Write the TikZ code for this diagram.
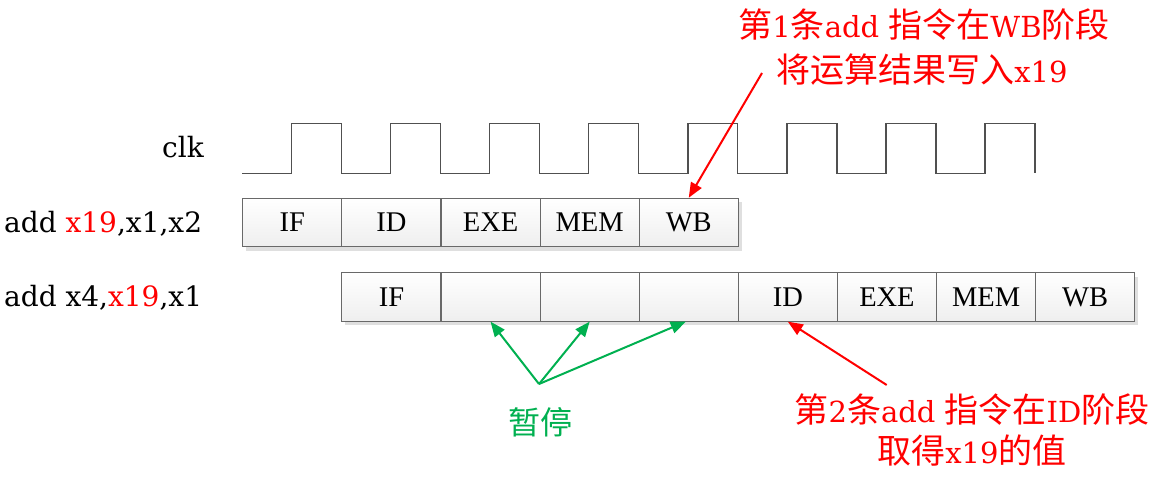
\documentclass[tikz,border=0pt]{standalone}
\usepackage{fontspec}
\setmainfont{DejaVu Serif}
\newfontfamily\cjkfont{Noto Sans CJK SC}
\newfontfamily\cellfont{Liberation Serif}
\usetikzlibrary{arrows.meta}
\definecolor{myred}{RGB}{255,0,0}
\definecolor{mygreen}{RGB}{0,176,80}
\definecolor{edgec}{RGB}{105,105,105}
\definecolor{clkc}{RGB}{80,80,80}
\newcommand\zhs[1]{{\cjkfont\fontsize{34}{40}\selectfont #1}}
\newcommand\zhg[1]{{\cjkfont\fontsize{32}{38}\selectfont #1}}
\begin{document}
\begin{tikzpicture}[x=1pt,y=-1pt,
  cell/.style={draw=edgec, line width=1.1pt, top color=white, bottom color=gray!13,
    minimum width=99.1pt, minimum height=48.4pt, inner sep=0pt,
    font=\cellfont\fontsize{28.5}{28.5}\selectfont},
  shadowc/.style={fill=gray!25},
  lbl/.style={font=\fontsize{28}{30}\selectfont, inner sep=0pt},
  note/.style={font=\fontsize{29}{34}\selectfont, text=myred, inner sep=0pt, anchor=base},
  redarrow/.style={draw=myred, line width=2pt, -{Triangle[length=15pt,width=12pt]}},
  greenarrow/.style={draw=mygreen, line width=2pt, -{Triangle[length=15pt,width=12pt]}},
  clkline/.style={draw=clkc, line width=1.5pt}
]
\useasboundingbox (0,0) rectangle (1152,480);

% clock
\draw[clkline] (242,173.3)
  \foreach \k in {0,...,7} {
    -- ({291.4+99.1*\k},173.3) -- ({291.4+99.1*\k},123.3)
    -- ({341.3+99.1*\k},123.3) -- ({341.3+99.1*\k},173.3)
  };

% labels
\node[lbl, anchor=base east] (clk) at (204,157.3) {clk};
\node[lbl, anchor=base west] (l1) at (4,232.7) {add \textcolor{myred}{x19},x1,x2};
\node[lbl, anchor=base west] (l2) at (4,306.7) {add x4,\textcolor{myred}{x19},x1};

% shadows
\fill[shadowc] (246,202) rectangle (741.5,250.5);
\fill[shadowc] (345,276.5) rectangle (1137.5,325);

% row 1
\foreach \t [count=\i] in {IF,ID,EXE,MEM,WB}
  \node[cell] (a\i) at ({242.8+99.1*(\i-0.5)},222.5) {\t};
% row 2
\foreach \t [count=\i] in {IF,{},{},{},ID,EXE,MEM,WB}
  \node[cell] (b\i) at ({341.9+99.1*(\i-0.5)},296.9) {\t};

% top annotation
\node[note] (n1a) at (924,37) {\zhs{第}1\zhs{条}add \zhs{指令在}WB\zhs{阶段}};
\node[note] (n1b) at (922,82) {\zhs{将运算结果写入}x19};
\coordinate (t1) at (762,73);
\draw[redarrow] (t1) -- (a5.north);

% bottom annotation
\node[note] (n2a) at (972,422.5) {\zhs{第}2\zhs{条}add \zhs{指令在}ID\zhs{阶段}};
\node[note] (n2b) at (972,463) {\zhs{取得}x19\zhs{的值}};
\coordinate (t2) at (886.7,385);
\draw[redarrow] (t2) -- (b5.south);

% stall
\node[inner sep=0pt, text=mygreen] (stall) at (540,422) {\zhg{暂停}};
\coordinate (g) at (539,384);
\draw[greenarrow] (g) -- (b2.south);
\draw[greenarrow] (g) -- (b3.south);
\draw[greenarrow] (g) -- ([xshift=-3pt]b4.south);
\end{tikzpicture}
\end{document}
